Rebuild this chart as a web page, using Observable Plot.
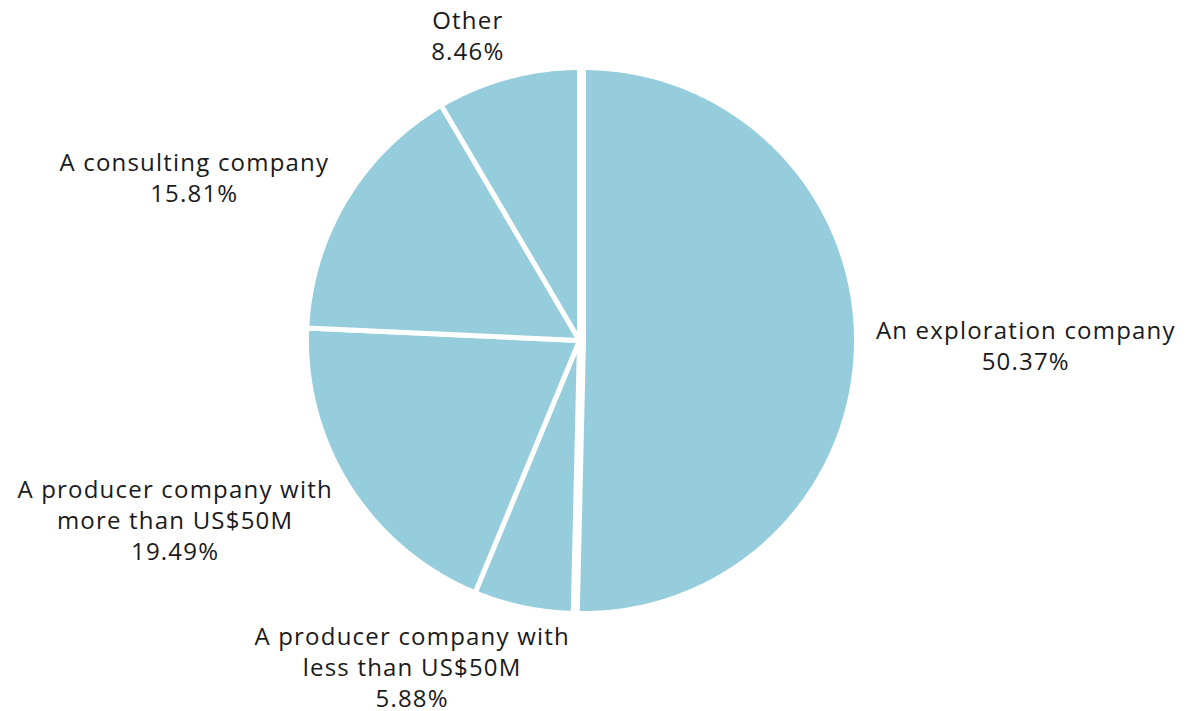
<!DOCTYPE html>
<html>
<head>
<meta charset="utf-8">
<script src="https://cdn.jsdelivr.net/npm/d3@7"></script>
<script src="https://cdn.jsdelivr.net/npm/@observablehq/plot@0.6"></script>
<style>
  html, body { margin: 0; padding: 0; background: #fff; }
  #chart svg { display: block; }
  #chart svg text { letter-spacing: 1.2px; }
</style>
</head>
<body>
<div id="chart"></div>
<script>
// ---- data ----
const categories = [
  "An exploration company",
  "A producer company with less than US$50M",
  "A producer company with more than US$50M",
  "A consulting company",
  "Other"
];
const labelLines = [
  ["An exploration company"],
  ["A producer company with", "less than US$50M"],
  ["A producer company with", "more than US$50M"],
  ["A consulting company"],
  ["Other"]
];
const shares = [50.37, 5.88, 19.49, 15.81, 8.46];
const valueLabels = ["50.37%", "5.88%", "19.49%", "15.81%", "8.46%"];

// ---- layout ----
const W = 1191, H = 711;
const CX = 579, CY = 340;      // pie centre in pixels
const R = 273;                  // slice radius (stroke trims ~2.5px)
const EXPLODE = [4, 0, 0, 0, 0];
const GAP = 20;
const FONT = "Open Sans";
const FS = 24;
const LS = 1.2;
const LH = 31;
const FILL = "#95cddd";

const arcs = d3.pie().sort(null).value(d => d).startAngle(0).endAngle(2 * Math.PI)(shares);

// polygon points for each slice (y-up coordinates relative to centre)
const pts = [];
arcs.forEach((a, i) => {
  const mid = (a.startAngle + a.endAngle) / 2;
  const ox = EXPLODE[i] * Math.sin(mid), oy = EXPLODE[i] * Math.cos(mid);
  const n = Math.max(4, Math.ceil((a.endAngle - a.startAngle) / 0.01));
  pts.push({key: categories[i], x: ox, y: oy});
  for (let k = 0; k <= n; k++) {
    const t = a.startAngle + (a.endAngle - a.startAngle) * k / n;
    pts.push({key: categories[i], x: ox + R * Math.sin(t), y: oy + R * Math.cos(t)});
  }
  pts.push({key: categories[i], x: ox, y: oy});
});

// label positions
const ctx = document.createElement("canvas").getContext("2d");
ctx.font = `${FS}px "${FONT}"`;
const labels = arcs.map((a, i) => {
  const lines = [...labelLines[i], valueLabels[i]];
  const w = d3.max(lines, s => ctx.measureText(s).width + (s.length - 1) * LS);
  const h = lines.length * LH;
  const mid = (a.startAngle + a.endAngle) / 2;
  const s = Math.sin(mid), c = Math.cos(mid);
  const rr = R + GAP + EXPLODE[i];
  const px = rr * s, py = rr * c;
  const f = Math.sign(s) * Math.max(0, Math.min(1, 5 * Math.abs(s) - 0.35));
  return {text: lines.join("\n"), x: px + f * w / 2, y: py + c * (h / 2 - 7)};
});

const chart = Plot.plot({
  width: W,
  height: H,
  margin: 0,
  x: {domain: [-CX, W - CX], axis: null},
  y: {domain: [CY - H, CY], axis: null},
  style: {fontFamily: FONT, background: "white"},
  marks: [
    Plot.line(pts, {x: "x", y: "y", z: "key", fill: FILL, stroke: "white", strokeWidth: 5, strokeLinejoin: "round"}),
    Plot.text(labels, {x: "x", y: "y", text: "text", fontSize: FS, lineHeight: LH / FS, lineAnchor: "middle", textAnchor: "middle", fill: "#1a1a1a"})
  ]
});
document.getElementById("chart").append(chart);
</script>
</body>
</html>
